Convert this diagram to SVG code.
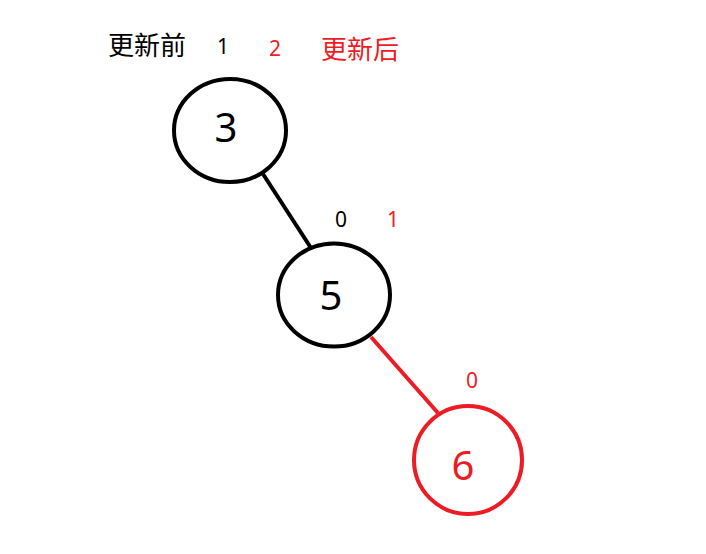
<svg xmlns="http://www.w3.org/2000/svg" width="706" height="554" viewBox="0 0 706 554">
<style>
.n{fill:#fff;stroke-width:4}
.k{stroke:#000}
.r{stroke:#ED1C24}
text{font-family:"Noto Sans","Noto Sans CJK SC",sans-serif}
.lab{font-size:40px;text-anchor:middle}
.s{font-size:21px;text-anchor:middle}
.cj{font-size:26px}
.bk{fill:#000}
.rd{fill:#ED1C24}
</style>
<rect width="706" height="554" fill="#fff"/>
<g id="connectors">
<line x1="263" y1="174" x2="311" y2="248" class="k" stroke-width="4"/>
<line x1="371" y1="337" x2="438" y2="413" class="r" stroke-width="4"/>
</g>
<g id="title">
<text x="108" y="55" class="cj bk">更新前</text>
<text x="223" y="54" class="s bk">1</text>
<text x="275" y="56" class="s rd">2</text>
<text x="321" y="59" class="cj rd">更新后</text>
</g>
<g id="node3">
<ellipse cx="230" cy="130.5" rx="56" ry="51.5" class="n k"/>
<text x="226" y="142" class="lab bk">3</text>
</g>
<g id="node5">
<ellipse cx="334" cy="295" rx="56" ry="51.5" class="n k"/>
<text x="331" y="310" class="lab bk">5</text>
<text x="341" y="227" class="s bk">0</text>
<text x="393" y="227" class="s rd">1</text>
</g>
<g id="node6">
<circle cx="468" cy="460" r="54" class="n r"/>
<text x="463" y="480" class="lab rd">6</text>
<text x="472" y="388" class="s rd">0</text>
</g>
</svg>
